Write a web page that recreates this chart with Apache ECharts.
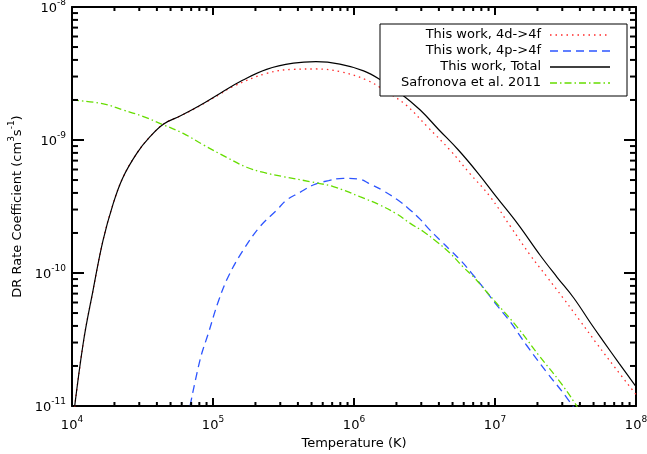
<!DOCTYPE html>
<html><head><meta charset="utf-8">
<script src="https://cdn.jsdelivr.net/npm/echarts/dist/echarts.min.js"></script>
<style>html,body{margin:0;padding:0;background:#fff}#c{width:647px;height:454px}</style>
</head><body><div id="c"></div>
<script>
// ---- data (Temperature in K, rate coefficient in cm^3 s^-1) ----
const tTotal = [1.0e4, 1.2e4, 1.41e4, 1.66e4, 1.95e4, 2.29e4, 2.88e4, 3.55e4, 4.47e4, 5.89e4, 7.94e4, 1.12e5, 1.62e5, 2.40e5, 3.72e5, 5.37e5, 7.94e5, 1.17e6, 1.58e6, 2.14e6, 2.95e6, 3.98e6, 5.50e6, 7.59e6, 1.02e7, 1.45e7, 2.09e7, 2.75e7, 3.63e7, 4.79e7, 5.89e7, 7.59e7, 1.0e8];
const rTotal = [6.76e-12, 2.95e-11, 7.41e-11, 1.76e-10, 3.27e-10, 5.19e-10, 7.94e-10, 1.05e-9, 1.32e-9, 1.52e-9, 1.80e-9, 2.24e-9, 2.81e-9, 3.40e-9, 3.78e-9, 3.88e-9, 3.72e-9, 3.31e-9, 2.79e-9, 2.24e-9, 1.68e-9, 1.20e-9, 8.41e-10, 5.62e-10, 3.75e-10, 2.34e-10, 1.36e-10, 9.33e-11, 6.46e-11, 4.17e-11, 3.05e-11, 2.09e-11, 1.40e-11];

const t4d = [1.0e4, 1.2e4, 1.41e4, 1.66e4, 1.95e4, 2.29e4, 2.88e4, 3.55e4, 4.47e4, 5.89e4, 7.94e4, 1.12e5, 1.38e5, 2.40e5, 3.72e5, 5.37e5, 7.94e5, 1.23e6, 1.70e6, 2.34e6, 3.31e6, 4.79e6, 6.61e6, 9.23e6, 1.29e7, 1.78e7, 2.34e7, 3.05e7, 3.98e7, 5.25e7, 7.08e7, 1.0e8];
const r4d = [6.76e-12, 2.95e-11, 7.41e-11, 1.76e-10, 3.27e-10, 5.19e-10, 7.94e-10, 1.05e-9, 1.32e-9, 1.52e-9, 1.79e-9, 2.21e-9, 2.52e-9, 3.17e-9, 3.40e-9, 3.42e-9, 3.27e-9, 2.82e-9, 2.31e-9, 1.83e-9, 1.26e-9, 8.41e-10, 5.62e-10, 3.75e-10, 2.23e-10, 1.36e-10, 9.33e-11, 6.46e-11, 4.42e-11, 2.96e-11, 1.95e-11, 1.22e-11];

const t4p = [6.61e4, 8.09e4, 9.27e4, 1.10e5, 1.30e5, 1.64e5, 2.15e5, 2.82e5, 3.33e5, 4.07e5, 5.14e5, 6.61e5, 8.39e5, 1.08e6, 1.30e6, 1.61e6, 2.01e6, 2.43e6, 2.94e6, 3.46e6, 4.07e6, 4.93e6, 5.81e6, 6.84e6, 8.05e6, 1.05e7, 1.28e7, 1.68e7, 2.32e7, 3.05e7, 3.80e7];
const r4p = [8.1e-12, 2.22e-11, 3.52e-11, 6.27e-11, 9.66e-11, 1.49e-10, 2.23e-10, 2.96e-10, 3.54e-10, 4.0e-10, 4.59e-10, 4.95e-10, 5.15e-10, 5.09e-10, 4.67e-10, 4.16e-10, 3.58e-10, 3.06e-10, 2.54e-10, 2.10e-10, 1.77e-10, 1.45e-10, 1.22e-10, 9.95e-11, 8.04e-11, 5.58e-11, 4.31e-11, 2.85e-11, 1.80e-11, 1.25e-11, 9.1e-12];

const tSaf = [1.0e4, 1.67e4, 2.31e4, 3.21e4, 4.45e4, 6.15e4, 8.53e4, 1.25e5, 1.73e5, 2.29e5, 3.16e5, 4.88e5, 7.13e5, 1.10e6, 1.53e6, 2.01e6, 2.49e6, 3.10e6, 3.86e6, 4.80e6, 5.94e6, 7.01e6, 8.49e6, 1.03e7, 1.46e7, 2.08e7, 2.89e7, 3.69e7, 3.98e7];
const rSaf = [2.0e-9, 1.87e-9, 1.68e-9, 1.50e-9, 1.30e-9, 1.12e-9, 9.2e-10, 7.4e-10, 6.24e-10, 5.7e-10, 5.3e-10, 4.86e-10, 4.46e-10, 3.75e-10, 3.24e-10, 2.78e-10, 2.37e-10, 2.05e-10, 1.72e-10, 1.41e-10, 1.11e-10, 9.4e-11, 7.45e-11, 5.9e-11, 3.84e-11, 2.35e-11, 1.52e-11, 1.05e-11, 9.2e-12];

const seriesNames = ['This work, 4d->4f', 'This work, 4p->4f', 'This work, Total', 'Safronova et al. 2011'];

// axis ranges and minor tick values
const xMin = 1e4, xMax = 1e8, yMin = 1e-11, yMax = 1e-8;
const minorX = [2e4,3e4,4e4,5e4,6e4,7e4,8e4,9e4, 2e5,3e5,4e5,5e5,6e5,7e5,8e5,9e5, 2e6,3e6,4e6,5e6,6e6,7e6,8e6,9e6, 2e7,3e7,4e7,5e7,6e7,7e7,8e7,9e7];
const minorY = [2e-11,3e-11,4e-11,5e-11,6e-11,7e-11,8e-11,9e-11, 2e-10,3e-10,4e-10,5e-10,6e-10,7e-10,8e-10,9e-10, 2e-9,3e-9,4e-9,5e-9,6e-9,7e-9,8e-9,9e-9];

const FONT = '"DejaVu Sans", sans-serif';
const zip = (a, b) => a.map((v, i) => [v, b[i]]);
const supRich = () => ({
  b: {fontSize: 13, lineHeight: 17, verticalAlign: 'bottom', fontFamily: FONT, color: '#000'},
  s: {fontSize: 9, lineHeight: 9, verticalAlign: 'top', fontFamily: FONT, color: '#000'}
});
const expFmt = v => '{b|10}{s|' + Math.round(Math.log10(v)) + '}';

const chart = echarts.init(document.getElementById('c'), null, {renderer: 'canvas'});

const axisLine = () => ({show: true, onZero: false, lineStyle: {color: '#000', width: 2}});
const colors = {d: '#ff2a2a', p: '#2d55ff', t: '#000000', s: '#66dd00'};
const tickX = () => ({show: true, inside: true, length: 8, lineStyle: {color: '#000', width: 2}});
const tickY = () => ({show: true, inside: true, length: 12, lineStyle: {color: '#000', width: 2}});

chart.setOption({
  animation: false,
  backgroundColor: '#fff',
  grid: {left: 72, right: 11, top: 7, bottom: 48, containLabel: false, outerBoundsMode: 'none'},
  xAxis: [
    {type: 'log', logBase: 10, min: xMin, max: xMax, splitNumber: 4, position: 'bottom',
     axisLine: axisLine(), axisTick: tickX(), splitLine: {show: false}, minorTick: {show: false},
     axisLabel: {formatter: expFmt, rich: supRich(), margin: 9},
     name: 'Temperature (K)', nameLocation: 'middle', nameGap: 28,
     nameTextStyle: {fontSize: 13, fontFamily: FONT, color: '#000'}},
    {type: 'log', logBase: 10, min: xMin, max: xMax, splitNumber: 4, position: 'top',
     axisLine: axisLine(), axisTick: tickX(), splitLine: {show: false}, axisLabel: {show: false}}
  ],
  yAxis: [
    {type: 'log', logBase: 10, min: yMin, max: yMax, splitNumber: 3, position: 'left',
     axisLine: axisLine(), axisTick: tickY(), splitLine: {show: false}, minorTick: {show: false},
     axisLabel: {formatter: expFmt, rich: supRich(), margin: 6},
     name: '{n|DR Rate Coefficient (cm}{s|3}{n|s}{s|-1}{n|)}', nameLocation: 'middle', nameGap: 48,
     nameTextStyle: {rich: {
        n: {fontSize: 13, lineHeight: 17, verticalAlign: 'bottom', fontFamily: FONT, color: '#000'},
        s: {fontSize: 9, lineHeight: 9, verticalAlign: 'top', fontFamily: FONT, color: '#000'}}}},
    {type: 'log', logBase: 10, min: yMin, max: yMax, splitNumber: 3, position: 'right',
     axisLine: axisLine(), axisTick: tickY(), splitLine: {show: false}, axisLabel: {show: false}}
  ],
  series: [
    {name: seriesNames[0], type: 'line', data: zip(t4d, r4d), showSymbol: false, smooth: 0.4,
     lineStyle: {color: colors.d, width: 1.3, type: [1.5, 4]}, z: 3},
    {name: seriesNames[1], type: 'line', data: zip(t4p, r4p), showSymbol: false, smooth: 0.4,
     lineStyle: {color: colors.p, width: 1.3, type: [8, 5]}, z: 3},
    {name: seriesNames[2], type: 'line', data: zip(tTotal, rTotal), showSymbol: false, smooth: 0.4,
     lineStyle: {color: colors.t, width: 1.2, type: 'solid'}, z: 4},
    {name: seriesNames[3], type: 'line', data: zip(tSaf, rSaf), showSymbol: false, smooth: 0.4,
     lineStyle: {color: colors.s, width: 1.3, type: [7, 3, 1.5, 3]}, z: 3}
  ]
});

// minor ticks (2..9 per decade) placed through the axes' own scales
const px = v => chart.convertToPixel({xAxisIndex: 0}, v);
const py = v => chart.convertToPixel({yAxisIndex: 0}, v);
const yB = py(yMin), yT = py(yMax), xL = px(xMin), xR = px(xMax);
const ts = () => ({stroke: '#000', lineWidth: 2});
const els = [];
minorX.forEach((v, i) => {
  const x = px(v);
  els.push({type: 'line', id: 'mxb' + i, z: 50, shape: {x1: x, y1: yB, x2: x, y2: yB - 4}, style: ts()});
  els.push({type: 'line', id: 'mxt' + i, z: 50, shape: {x1: x, y1: yT, x2: x, y2: yT + 4}, style: ts()});
});
minorY.forEach((v, i) => {
  const y = py(v);
  els.push({type: 'line', id: 'myl' + i, z: 50, shape: {x1: xL, y1: y, x2: xL + 6, y2: y}, style: ts()});
  els.push({type: 'line', id: 'myr' + i, z: 50, shape: {x1: xR, y1: y, x2: xR - 6, y2: y}, style: ts()});
});

// legend box (drawn on a higher layer so it hides the curves behind it)
els.push({type: 'rect', id: 'lgbox', zlevel: 1, z: 100, shape: {x: 380, y: 24, width: 247, height: 72},
  style: {fill: '#fff', stroke: '#000', lineWidth: 1}});
seriesNames.forEach((n, i) => els.push({type: 'text', id: 'lgt' + i, zlevel: 1, z: 101, x: 541, y: 35 + i * 16,
  style: {text: n, font: '13px ' + FONT, fill: '#000', align: 'right', verticalAlign: 'middle',
          textAlign: 'right', textVerticalAlign: 'middle'}}));
const lgLines = [[colors.d, [1.5, 4]], [colors.p, [8, 5]], [colors.t, null], [colors.s, [7, 3, 1.5, 3]]];
lgLines.forEach((l, i) => els.push({type: 'line', id: 'lgl' + i, zlevel: 1, z: 101,
  shape: {x1: 550, y1: 35 + i * 16, x2: 610, y2: 35 + i * 16},
  style: {stroke: l[0], lineWidth: l[1] ? 1.3 : 1.5, lineDash: l[1]}}));

chart.setOption({graphic: {elements: els}});
</script></body></html>
